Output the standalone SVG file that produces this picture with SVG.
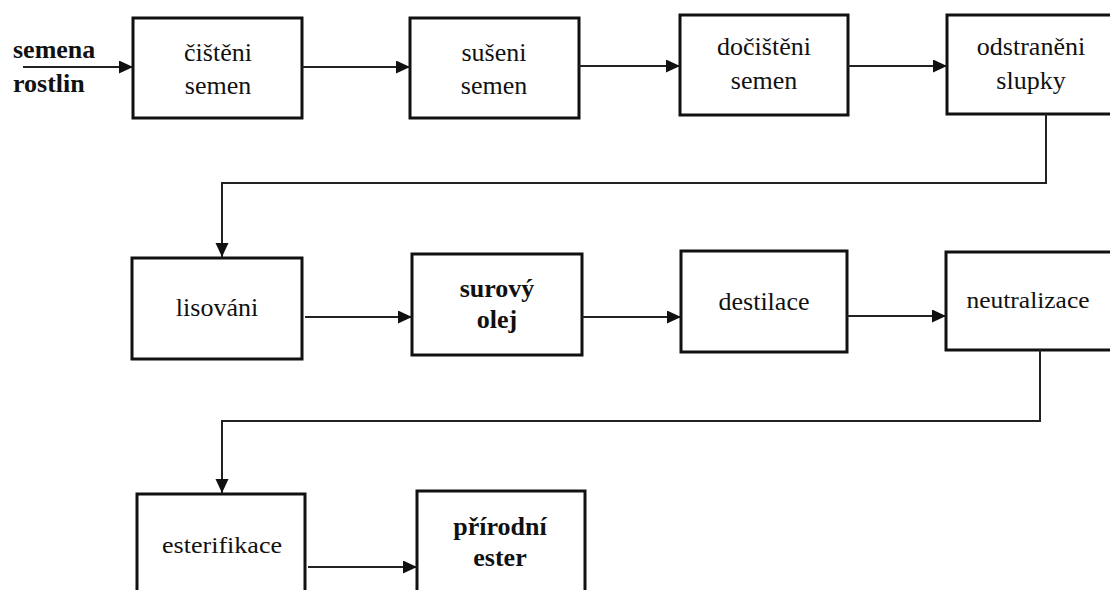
<svg xmlns="http://www.w3.org/2000/svg" width="1110" height="590" viewBox="0 0 1110 590">
<style>
.box{fill:#fff;stroke:#111;stroke-width:3}
.t{font-family:'Liberation Serif';font-size:26px;fill:#111;text-anchor:middle}
.b{font-weight:bold}
.l{text-anchor:start}
.c{fill:none;stroke:#222;stroke-width:2}
</style>
<defs>
<marker id="ah" markerUnits="userSpaceOnUse" markerWidth="15" markerHeight="14" refX="14" refY="6.5" orient="auto">
<path d="M0,0 L14,6.5 L0,13 z" fill="#111"/>
</marker>
</defs>
<rect width="1110" height="590" fill="#fff"/>
<g id="input">
<text class="t b l" x="13" y="58">semena</text>
<text class="t b l" x="13" y="92">rostlin</text>
</g>
<g id="n1"><rect class="box" x="133" y="18" width="169" height="100"/><text class="t" x="218" y="61">čištěni</text><text class="t" x="218" y="94">semen</text></g>
<g id="n2"><rect class="box" x="410" y="18" width="169" height="100"/><text class="t" x="494" y="61">sušeni</text><text class="t" x="494" y="94">semen</text></g>
<g id="n3"><rect class="box" x="680" y="15" width="168" height="100"/><text class="t" x="764" y="55">dočištěni</text><text class="t" x="764" y="89">semen</text></g>
<g id="n4"><rect class="box" x="947" y="15" width="170" height="99"/><text class="t" x="1031" y="55">odstraněni</text><text class="t" x="1031" y="89">slupky</text></g>
<g id="n5"><rect class="box" x="132" y="258" width="170" height="101"/><text class="t" x="217" y="316">lisováni</text></g>
<g id="n6"><rect class="box" x="412" y="254" width="170" height="101"/><text class="t b" x="497" y="297">surový</text><text class="t b" x="497" y="328">olej</text></g>
<g id="n7"><rect class="box" x="681" y="251" width="166" height="101"/><text class="t" x="764" y="310">destilace</text></g>
<g id="n8"><rect class="box" x="946" y="252" width="170" height="98"/><text class="t" x="1028" y="308" font-size="23" style="font-size:23px" textLength="123" lengthAdjust="spacingAndGlyphs">neutralizace</text></g>
<g id="n9"><rect class="box" x="137" y="494" width="168" height="110"/><text class="t" x="222" y="553" style="font-size:24px" textLength="120" lengthAdjust="spacingAndGlyphs">esterifikace</text></g>
<g id="n10"><rect class="box" x="417" y="491" width="168" height="110"/><text class="t b" x="500" y="535">přírodní</text><text class="t b" x="500" y="566">ester</text></g>
<g id="connectors">
<line class="c" x1="23" y1="67" x2="133" y2="67" marker-end="url(#ah)"/>
<line class="c" x1="302" y1="67" x2="410" y2="67" marker-end="url(#ah)"/>
<line class="c" x1="579" y1="66" x2="680" y2="66" marker-end="url(#ah)"/>
<line class="c" x1="848" y1="66" x2="947" y2="66" marker-end="url(#ah)"/>
<polyline class="c" points="1046,114 1046,183 222,183 222,257" marker-end="url(#ah)"/>
<line class="c" x1="305" y1="317" x2="412" y2="317" marker-end="url(#ah)"/>
<line class="c" x1="582" y1="317" x2="681" y2="317" marker-end="url(#ah)"/>
<line class="c" x1="847" y1="316" x2="946" y2="316" marker-end="url(#ah)"/>
<polyline class="c" points="1040,350 1040,421 222,421 222,493" marker-end="url(#ah)"/>
<line class="c" x1="308" y1="567" x2="417" y2="567" marker-end="url(#ah)"/>
</g>
</svg>
